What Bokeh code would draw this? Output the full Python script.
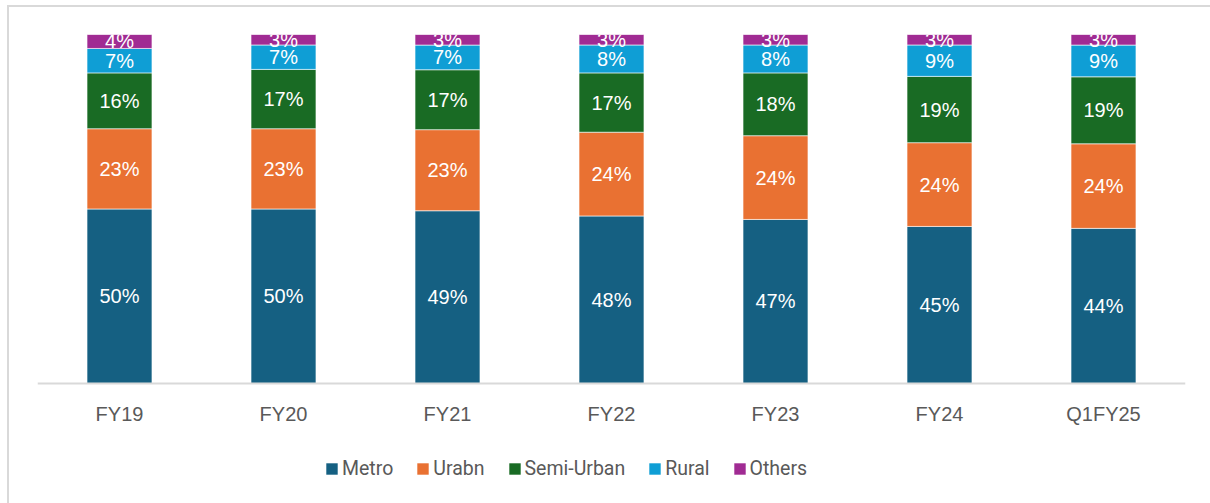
import pandas as pd
from bokeh.plotting import figure
from bokeh.layouts import column
from bokeh.models import (ColumnDataSource, Legend, LegendItem, FactorRange)
from bokeh.core.properties import value
from bokeh.embed import file_html
from bokeh.resources import INLINE

# Share of branches by population group (%)
periods = ["FY19", "FY20", "FY21", "FY22", "FY23", "FY24", "Q1FY25"]
metro = [50, 50, 49, 48, 47, 45, 44]
urban = [23, 23, 23, 24, 24, 24, 24]
semi_urban = [16, 17, 17, 17, 18, 19, 19]
rural = [7, 7, 7, 8, 8, 9, 9]
others = [4, 3, 3, 3, 3, 3, 3]

segments = ["Metro", "Urabn", "Semi-Urban", "Rural", "Others"]
keys = ["metro", "urban", "semi_urban", "rural", "others"]
colors = ["#156082", "#E97132", "#196B24", "#0F9ED5", "#A02B93"]

df = pd.DataFrame({"period": periods, "metro": metro, "urban": urban,
                   "semi_urban": semi_urban, "rural": rural, "others": others})

# 100% stacked: each column is scaled to its own total
totals = df[keys].sum(axis=1)
share = df[keys].div(totals, axis=0) * 100
share["period"] = df["period"]
source = ColumnDataSource(share)

# frame runs to the bottom edge; the category axis sits at y = 0
fig = figure(x_range=FactorRange(*periods, range_padding=0),
             y_range=(-34.4, 100),
             width=1201, height=496, output_backend="svg",
             toolbar_location=None,
             min_border_left=28, min_border_right=25, min_border_top=27,
             min_border_bottom=0)
fig.outline_line_color = None
fig.background_fill_color = "white"
fig.border_fill_color = "white"

renderers = fig.vbar_stack(keys, x="period", width=0.396, color=colors,
                           line_color="white", line_width=0.6, source=source)

# data labels centred in each segment, showing the stated percentages
label_x, label_y, label_t = [], [], []
cum = pd.Series([0.0] * len(df))
for k in keys:
    mid = cum + share[k] / 2
    label_x += periods
    label_y += list(mid)
    label_t += [f"{v}%" for v in df[k]]
    cum = cum + share[k]
labels = ColumnDataSource(dict(x=label_x, y=label_y, t=label_t))
fig.text(x="x", y="y", text="t", source=labels, text_color="white",
         text_align="center", text_baseline="middle",
         text_font=value("Liberation Sans"), text_font_size="20px")

# axes
fig.yaxis.visible = False
fig.xgrid.grid_line_color = None
fig.ygrid.grid_line_color = None
xa = fig.xaxis[0]
xa.fixed_location = 0
xa.axis_line_color = "#d9d9d9"
xa.axis_line_width = 2
xa.major_tick_line_color = None
xa.minor_tick_line_color = None
xa.major_label_text_font = "Liberation Sans"
xa.major_label_text_font_size = "20px"
xa.major_label_text_color = "#595959"
xa.major_label_standoff = 14

legend = Legend(items=[LegendItem(label=s, renderers=[r])
                       for s, r in zip(segments, renderers)],
                orientation="horizontal", location=(287, 23),
                glyph_width=15, glyph_height=15, label_standoff=3,
                spacing=22, padding=5, margin=0,
                label_text_font="Roboto", label_text_font_size="19.5px",
                label_text_color="#595959", border_line_color=None,
                background_fill_alpha=0)
fig.add_layout(legend)

# chart area: light border on the top and left edges
p = column(fig, styles={"margin-left": "7px", "margin-top": "5px",
                        "border-left": "2px solid #d9d9d9",
                        "border-top": "2px solid #d9d9d9"})

open("out.html", "w").write(file_html(p, INLINE))
